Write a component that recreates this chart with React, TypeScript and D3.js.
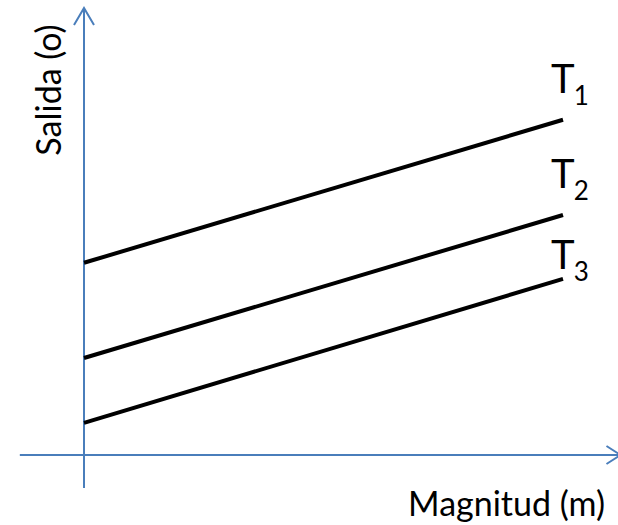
import React from "react";
import * as d3 from "d3";

// Data (arbitrary units)
const magnitude = [0, 100];
const seriesNames = ["T", "T", "T"];
const seriesSubs = ["1", "2", "3"];
const t1 = [43.0, 75.0];
const t2 = [21.7, 53.7];
const t3 = [7.2, 39.4];
const seriesValues = [t1, t2, t3];
const axisX = [-13.4, 112];
const axisY = [-7.4, 100];

const W = 618;
const H = 525;

export default function App() {
  const x = d3.scaleLinear().domain([0, 100]).range([84, 563]);
  const y = d3.scaleLinear().domain([0, 100]).range([455, 8]);
  const line = d3
    .line<[number, number]>()
    .x((d) => x(d[0]))
    .y((d) => y(d[1]));
  const blue = "#4a7ebb";
  const font = "Lato, 'Open Sans', sans-serif";
  const labelDy = [-27, -27, -10];

  const yTop = y(axisY[1]);
  const xRight = x(axisX[1]);
  return (
    <svg
      width={W}
      height={H}
      style={{ position: "absolute", left: 0, top: 0, background: "#fff" }}
    >
      {/* axes */}
      <line x1={x(0)} x2={x(0)} y1={y(axisY[0])} y2={yTop} stroke={blue} strokeWidth={2} />
      <polyline
        points={`${x(0) - 10},${yTop + 17} ${x(0)},${yTop} ${x(0) + 10},${yTop + 17}`}
        fill="none"
        stroke={blue}
        strokeWidth={2}
      />
      <line x1={x(axisX[0])} x2={xRight} y1={y(0)} y2={y(0)} stroke={blue} strokeWidth={2} />
      <polyline
        points={`${xRight - 14},${y(0) - 9} ${xRight},${y(0)} ${xRight - 14},${y(0) + 9}`}
        fill="none"
        stroke={blue}
        strokeWidth={2}
      />
      {/* series lines */}
      {seriesValues.map((vals, i) => {
        const pts: [number, number][] = magnitude.map((m, j) => [m, vals[j]]);
        const end = pts[pts.length - 1];
        return (
          <g key={i}>
            <path d={line(pts) || ""} fill="none" stroke="#000" strokeWidth={4} />
            <text
              x={x(end[0]) - 12}
              y={y(end[1]) + labelDy[i]}
              fontFamily={font}
              fontSize={40}
              fill="#000"
            >
              {seriesNames[i]}
              <tspan dx={-1} dy={12} fontSize={26}>
                {seriesSubs[i]}
              </tspan>
            </text>
          </g>
        );
      })}
      {/* axis titles */}
      <text x={605} y={516} textAnchor="end" fontFamily={font} fontSize={34} fill="#000">
        Magnitud (m)
      </text>
      <text
        transform={`translate(61,90) rotate(-90)`}
        textAnchor="middle"
        fontFamily={font}
        fontSize={34}
        fill="#000"
      >
        Salida (o)
      </text>
    </svg>
  );
}
